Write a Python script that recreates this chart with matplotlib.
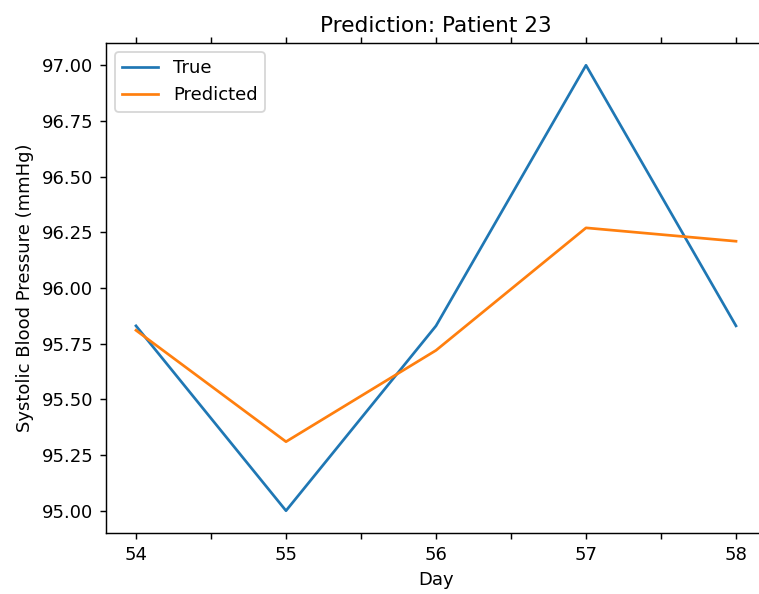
import numpy as np
import matplotlib
matplotlib.use('Agg')
import matplotlib.pyplot as plt

days = [54, 55, 56, 57, 58]
true_bp = [95.83, 95.00, 95.83, 97.00, 95.83]
pred_bp = [95.81, 95.31, 95.72, 96.27, 96.21]

DPI = 130
fig = plt.figure(figsize=(759 / DPI, 594 / DPI), dpi=DPI)
# axes runs past the right edge of the figure
ax = fig.add_axes([106 / 759, 61 / 594, 660 / 759, 490 / 594])

ax.plot(days, true_bp, label='True', linewidth=1.5)
ax.plot(days, pred_bp, label='Predicted', linewidth=1.5)

ticks = np.arange(54, 58.01, 0.5)
ax.set_xlim(53.8, 58.2)
ax.set_xticks(ticks)
ax.set_xticklabels([str(int(d)) if d == int(d) else '' for d in ticks])
ax.tick_params(axis='x', top=True)
ax.set_ylim(94.9, 97.1)
ax.set_yticks(np.arange(95.0, 97.01, 0.25))
ax.set_yticklabels([f'{v:.2f}' for v in np.arange(95.0, 97.01, 0.25)])

ax.set_title('Prediction: Patient 23', fontsize=12)
ax.set_xlabel('Day')
ax.set_ylabel('Systolic Blood Pressure (mmHg)')
ax.legend(loc='upper left')

fig.savefig('out.png', dpi=DPI)
